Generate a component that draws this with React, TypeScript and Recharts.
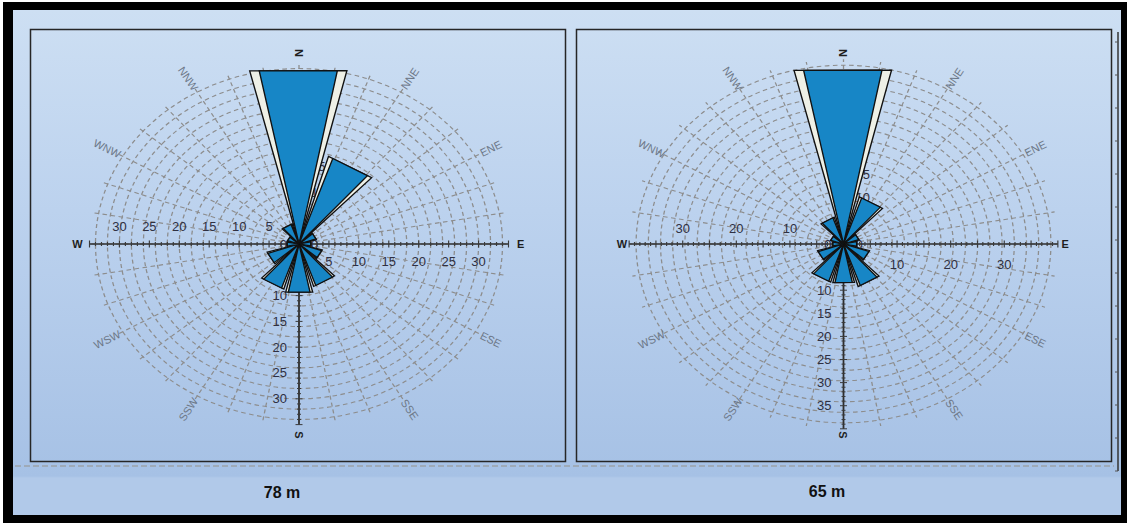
import * as React from 'react';
import {
  PolarAngleAxis,
  PolarGrid,
  PolarRadiusAxis,
  RadialBar,
  RadialBarChart,
} from 'recharts';

// 12 sectors, clockwise from north
const directions = ['N', 'NNE', 'ENE', 'E', 'ESE', 'SSE', 'S', 'SSW', 'WSW', 'W', 'WNW', 'NNW'];
const freq78 = [34.2, 17.5, 3, 2, 4, 8.5, 9.5, 9, 5.5, 2, 2, 4];
const freq65 = [38.3, 10.5, 3, 2.5, 5, 9.5, 8.5, 8.5, 5, 2, 2.5, 6];

const hLabels78 = [5, 10, 15, 20, 25, 30];
const vLabels78 = [0, 5, 10, 15, 20, 25, 30];
const hLabels65 = [10, 20, 30];
const vLabels65 = [0, 5, 10, 15, 20, 25, 30, 35];

const titles = ['78 m', '65 m'];

const SX = 1.16; // the roses are drawn as ellipses, wider than tall
const PANEL_H = 432;
const PANEL_W = 535;
const FONT = '"Liberation Sans", Arial, sans-serif';
const BLUE = '#1786c6';
const CREAM = '#eef0e6';
const CARDINALS = ['N', 'E', 'S', 'W'];

type Side = 'below' | 'above' | 'left' | 'right';

function makeAxisTick(side: Side, labels: number[], gap: number, drawMarks = true) {
  return function AxisTick(props: any) {
    const { x, y, payload } = props;
    const v = Number(payload?.value);
    const horizontal = side === 'below' || side === 'above';
    const len = v % 5 === 0 ? 3.5 : 2;
    let mark = null;
    if (drawMarks && v !== 0) {
      mark = horizontal ? (
        <line x1={x} y1={y - len} x2={x} y2={y + len} stroke="#3a3a3a" strokeWidth={1} />
      ) : (
        <line x1={x - len / SX} y1={y} x2={x + len / SX} y2={y} stroke="#3a3a3a" strokeWidth={1} />
      );
    }
    let label = null;
    if (labels.includes(v)) {
      const dx = side === 'left' ? -gap : side === 'right' ? gap : 0;
      const dy = side === 'below' ? gap : side === 'above' ? -gap : 0;
      const anchor = side === 'left' ? 'end' : side === 'right' ? 'start' : 'middle';
      label = (
        <g transform={`translate(${x + dx / SX},${y + dy}) scale(${1 / SX},1)`}>
          <text
            textAnchor={anchor}
            dominantBaseline="central"
            fontSize={13}
            fontFamily={FONT}
            fill="#2f3042"
          >
            {v}
          </text>
        </g>
      );
    }
    return (
      <g>
        {mark}
        {label}
      </g>
    );
  };
}

function makeDirectionTick(cx: number, cy: number, r: number) {
  return function DirectionTick(props: any) {
    const { index } = props;
    const name = directions[index];
    const theta = (index * 30 * Math.PI) / 180;
    const x = cx + r * Math.sin(theta);
    const y = cy - r * Math.cos(theta);
    let rot = (Math.atan2(-Math.cos(theta), SX * Math.sin(theta)) * 180) / Math.PI;
    rot = ((rot % 180) + 180) % 180;
    if (rot > 90) rot -= 180;
    const cardinal = CARDINALS.includes(name);
    return (
      <g transform={`translate(${x},${y}) scale(${1 / SX},1) rotate(${rot})`}>
        <text
          textAnchor="middle"
          dominantBaseline="central"
          fontSize={11}
          fontWeight={cardinal ? 700 : 400}
          fontFamily={FONT}
          fill={cardinal ? '#1e1e1e' : '#6d7888'}
        >
          {name}
        </text>
      </g>
    );
  };
}

// wedge with a pale, slightly wider face behind it
function RoseWedge(props: any) {
  const { cx, cy, outerRadius, startAngle, endAngle } = props;
  if (!outerRadius || outerRadius <= 0) return null;
  const lo = Math.min(startAngle, endAngle);
  const hi = Math.max(startAngle, endAngle);
  const half = ((hi - lo) / 2) * (Math.PI / 180);
  const extra = 2.6;
  const half2 = half + (extra * Math.PI) / 180;
  const r2 = (outerRadius * Math.cos(half)) / Math.cos(half2);
  const pt = (a: number, r: number) => {
    const rad = (-a * Math.PI) / 180;
    return `${cx + r * Math.cos(rad)},${cy + r * Math.sin(rad)}`;
  };
  const back = `${cx},${cy} ${pt(lo - extra, r2)} ${pt(hi + extra, r2)}`;
  const face = `${cx},${cy} ${pt(lo, outerRadius)} ${pt(hi, outerRadius)}`;
  return (
    <g>
      <polygon points={back} fill={CREAM} stroke="#111" strokeWidth={1.2} />
      <polygon points={face} fill={BLUE} stroke="#111" strokeWidth={1.2} />
    </g>
  );
}

type RoseProps = {
  values: number[];
  hLabels: number[];
  vLabels: number[];
  left: number;
  centerX: number;
  unitPx: number;
  axisMax: number;
  ringMax: number;
  belowGap: number;
  aboveGap: number;
};

function WindRose({ values, hLabels, vLabels, left, centerX, unitPx, axisMax, ringMax, belowGap, aboveGap }: RoseProps) {
  const width = PANEL_W / SX;
  const height = PANEL_H;
  const cx = (centerX - left) / SX;
  const cy = 215;
  const outerRadius = axisMax * unitPx;
  const data = directions.map((dir, i) => ({ dir, value: values[i] }));
  const ringCount = 17;
  const rings = Array.from({ length: ringCount }, (_, i) => ((i + 1) * ringMax * unitPx) / ringCount);
  const spokes = Array.from({ length: 36 }, (_, i) => i * 10);
  const unitTicks = Array.from({ length: Math.floor(axisMax) + 1 }, (_, i) => i);
  const axisLine = { stroke: '#2e2e2e', strokeWidth: 1.5 };

  return (
    <div
      style={{
        position: 'absolute',
        left,
        top: 29,
        width,
        height,
        transform: `scaleX(${SX})`,
        transformOrigin: '0 0',
      }}
    >
      <RadialBarChart
        width={width}
        height={height}
        data={data}
        cx={cx}
        cy={cy}
        innerRadius={0}
        outerRadius={outerRadius}
        startAngle={75}
        endAngle={-285}
        layout="centric"
        barCategoryGap="14%"
        margin={{ top: 0, right: 0, bottom: 0, left: 0 }}
      >
        <PolarGrid
          gridType="circle"
          polarRadius={rings}
          polarAngles={spokes}
          stroke="#8d8d8d"
          strokeWidth={1.1}
          strokeDasharray="4 3"
        />
        <PolarAngleAxis
          dataKey="dir"
          type="category"
          axisLine={false}
          tickLine={false}
          tick={makeDirectionTick(cx, cy, 191)}
        />
        <PolarRadiusAxis
          type="number"
          angle={90}
          radiusAxisId="n"
          domain={[0, axisMax]}
          allowDataOverflow
          ticks={vLabels}
          axisLine={axisLine}
          tick={makeAxisTick('right', vLabels, 12, false)}
        />
        <PolarRadiusAxis
          type="number"
          angle={0}
          radiusAxisId={0}
          domain={[0, axisMax]}
          allowDataOverflow
          ticks={unitTicks}
          axisLine={axisLine}
          tick={makeAxisTick('below', hLabels, belowGap)}
        />
        <PolarRadiusAxis
          type="number"
          angle={180}
          radiusAxisId="w"
          domain={[0, axisMax]}
          allowDataOverflow
          ticks={unitTicks}
          axisLine={axisLine}
          tick={makeAxisTick('above', hLabels, aboveGap)}
        />
        <PolarRadiusAxis
          type="number"
          angle={270}
          radiusAxisId="s"
          domain={[0, axisMax]}
          allowDataOverflow
          ticks={unitTicks}
          axisLine={axisLine}
          tick={makeAxisTick('left', vLabels, 12)}
        />
        <RadialBar dataKey="value" shape={RoseWedge} isAnimationActive={false} zIndex={800} />
      </RadialBarChart>
    </div>
  );
}

function Frame() {
  const ticks = Array.from({ length: 14 }, (_, i) => 42 + i * 33);
  return (
    <svg
      width={1128}
      height={525}
      style={{ position: 'absolute', left: 0, top: 0, pointerEvents: 'none' }}
    >
      <rect x={30.5} y={29.5} width={535} height={432} fill="none" stroke="#262626" strokeWidth={1.5} />
      <rect x={576.5} y={29.5} width={535} height={432} fill="none" stroke="#262626" strokeWidth={1.5} />
      <line x1={15} y1={466} x2={1114} y2={466} stroke="#9eaab8" strokeWidth={2} strokeDasharray="6 3" />
      <line x1={1118} y1={32} x2={1118} y2={471} stroke="#333" strokeWidth={1.5} />
      {ticks.map((t) => (
        <line key={t} x1={1115} y1={t} x2={1118} y2={t} stroke="#555" strokeWidth={1} />
      ))}
      <text x={282} y={498} textAnchor="middle" fontSize={16} fontWeight={700} fontFamily={FONT} fill="#111">
        {titles[0]}
      </text>
      <text x={827} y={497} textAnchor="middle" fontSize={16} fontWeight={700} fontFamily={FONT} fill="#111">
        {titles[1]}
      </text>
    </svg>
  );
}

export default function App() {
  return (
    <div
      style={{
        position: 'absolute',
        left: 0,
        top: 0,
        width: 1128,
        height: 525,
        background: '#fff',
        overflow: 'hidden',
      }}
    >
      <div
        style={{
          position: 'absolute',
          left: 3,
          top: 2,
          width: 1124,
          height: 521,
          background: '#000',
        }}
      />
      <div
        style={{
          position: 'absolute',
          left: 13,
          top: 10,
          width: 1108,
          height: 505,
          background:
            'linear-gradient(to bottom, #cddff3 0px, #bcd2ee 200px, #a6c1e5 466px, #b1c9e9 468px, #b1c9e9 505px)',
        }}
      />
      <WindRose
        values={freq78}
        hLabels={hLabels78}
        vLabels={vLabels78}
        left={30}
        centerX={299}
        unitPx={5.16}
        axisMax={35}
        ringMax={34}
        belowGap={18}
        aboveGap={18}
      />
      <WindRose
        values={freq65}
        hLabels={hLabels65}
        vLabels={vLabels65}
        left={576}
        centerX={843.5}
        unitPx={4.62}
        axisMax={40}
        ringMax={38.7}
        belowGap={21}
        aboveGap={16}
      />
      <Frame />
    </div>
  );
}
